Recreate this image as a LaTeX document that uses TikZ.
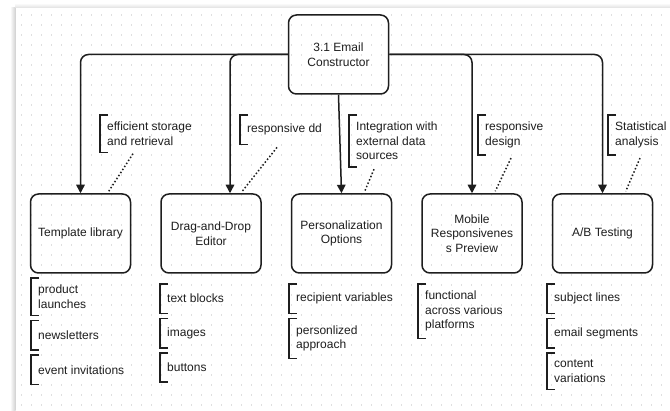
\documentclass[tikz,border=0pt]{standalone}
\usepackage{fontspec}
\setmainfont{Liberation Sans}
\usetikzlibrary{arrows.meta, positioning}
\definecolor{ink}{HTML}{1E1E1E}
\tikzset{
    myarrow/.style={-{Triangle[width=8.5pt,length=8.5pt]}, draw=ink, line width=1.5pt, rounded corners=8pt},
    topic/.style={draw=ink, line width=1.5pt, rounded corners=8pt, minimum width=100pt, minimum height=79pt, align=center, text=ink, font=\fontsize{12}{14.5}\selectfont},
    note/.style={inner xsep=7pt, inner ysep=7pt, minimum height=29pt, align=left, text=ink, font=\fontsize{12}{14.5}\selectfont},
    brk/.style={draw=ink, line width=1.5pt},
    hint/.style={draw=ink, line width=1.5pt, dash pattern=on 1.5pt off 2.1pt}
}

\begin{document}
\begin{tikzpicture}[x=1pt, y=-1pt]
    \useasboundingbox (0,0) rectangle (670,411);
    % page, shadow and dot grid
    \fill[white] (0,0) rectangle (670,411);
    \shade[left color=white, right color=black!18] (10,8) rectangle (15.5,411);
    \shade[top color=white, bottom color=black!12] (15.5,3) rectangle (670,8);
    \foreach \gy in {15,25,...,405}
        \draw[gray!25, line width=1.3pt, dash pattern=on 1.3pt off 8.7pt] (21,\gy) -- (670,\gy);

    % main boxes
    \node (root) [topic] at (338.5,54.5) {3.1 Email\\Constructor};
    \node (tpl) [topic] at (80.5,233.5) {Template library};
    \node (dnd) [topic, right=29pt of tpl] {Drag-and-Drop\\Editor};
    \node (per) [topic, right=29pt of dnd] {Personalization\\Options};
    \node (mob) [topic, right=29pt of per] {Mobile\\Responsivenes\\s Preview};
    \node (ab) [topic, right=29pt of mob] {A/B Testing};

    \draw [myarrow] (root.west) -| (tpl.north);
    \draw [myarrow] (root.west) -| ([xshift=19pt]dnd.north);
    \draw [myarrow] (root.south) -- (per.north);
    \draw [myarrow] (root.east) -| (mob.north);
    \draw [myarrow] (root.east) -| (ab.north);

    % annotations on the branches
    \node (a1) [note, anchor=north west] at (100,115) {efficient storage\\and retrieval};
    \node (a2) [note, anchor=north west] at (240,115) {responsive dd};
    \node (a3) [note, anchor=north west] at (349,115) {Integration with\\external data\\sources};
    \node (a4) [note, anchor=north west] at (478,115) {responsive\\design};
    \node (a5) [note, anchor=north west] at (608,115) {Statistical\\analysis};

    \draw [hint] ([xshift=33pt,yshift=-1pt]a1.south west) -- ([xshift=79pt,yshift=2pt]tpl.north west);
    \draw [hint] ([xshift=37pt,yshift=-3pt]a2.south west) -- ([xshift=82pt,yshift=2pt]dnd.north west);
    \draw [hint] ([xshift=25pt,yshift=-2pt]a3.south west) -- ([xshift=74pt,yshift=2pt]per.north west);
    \draw [hint] ([xshift=33pt,yshift=-3pt]a4.south west) -- ([xshift=74pt,yshift=2pt]mob.north west);
    \draw [hint] ([xshift=32pt,yshift=-3pt]a5.south west) -- ([xshift=74pt,yshift=2pt]ab.north west);

    % lists under the boxes
    \node (l11) [note, anchor=north west] at (31,278) {product\\launches};
    \node (l12) [note, below right=5pt and 0pt of l11.south west] {newsletters};
    \node (l13) [note, below right=5pt and 0pt of l12.south west] {event invitations};

    \node (l21) [note, anchor=north west] at (160,284) {text blocks};
    \node (l22) [note, below right=5pt and 0pt of l21.south west] {images};
    \node (l23) [note, below right=5pt and 0pt of l22.south west] {buttons};

    \node (l31) [note, anchor=north west] at (289,284) {recipient variables};
    \node (l32) [note, below right=5pt and 0pt of l31.south west] {personlized\\approach};

    \node (l41) [note, anchor=north west] at (418,284) {functional\\across various\\platforms};

    \node (l51) [note, anchor=north west] at (547,284) {subject lines};
    \node (l52) [note, below right=5pt and 0pt of l51.south west] {email segments};
    \node (l53) [note, below right=5pt and 0pt of l52.south west] {content\\variations};

    \foreach \n in {a1,a2,a3,a4,a5,l11,l12,l13,l21,l22,l23,l31,l32,l41,l51,l52,l53}
        \draw [brk] ([xshift=8pt]\n.north west) -- (\n.north west) -- (\n.south west) -- ([xshift=8pt]\n.south west);
\end{tikzpicture}
\end{document}
